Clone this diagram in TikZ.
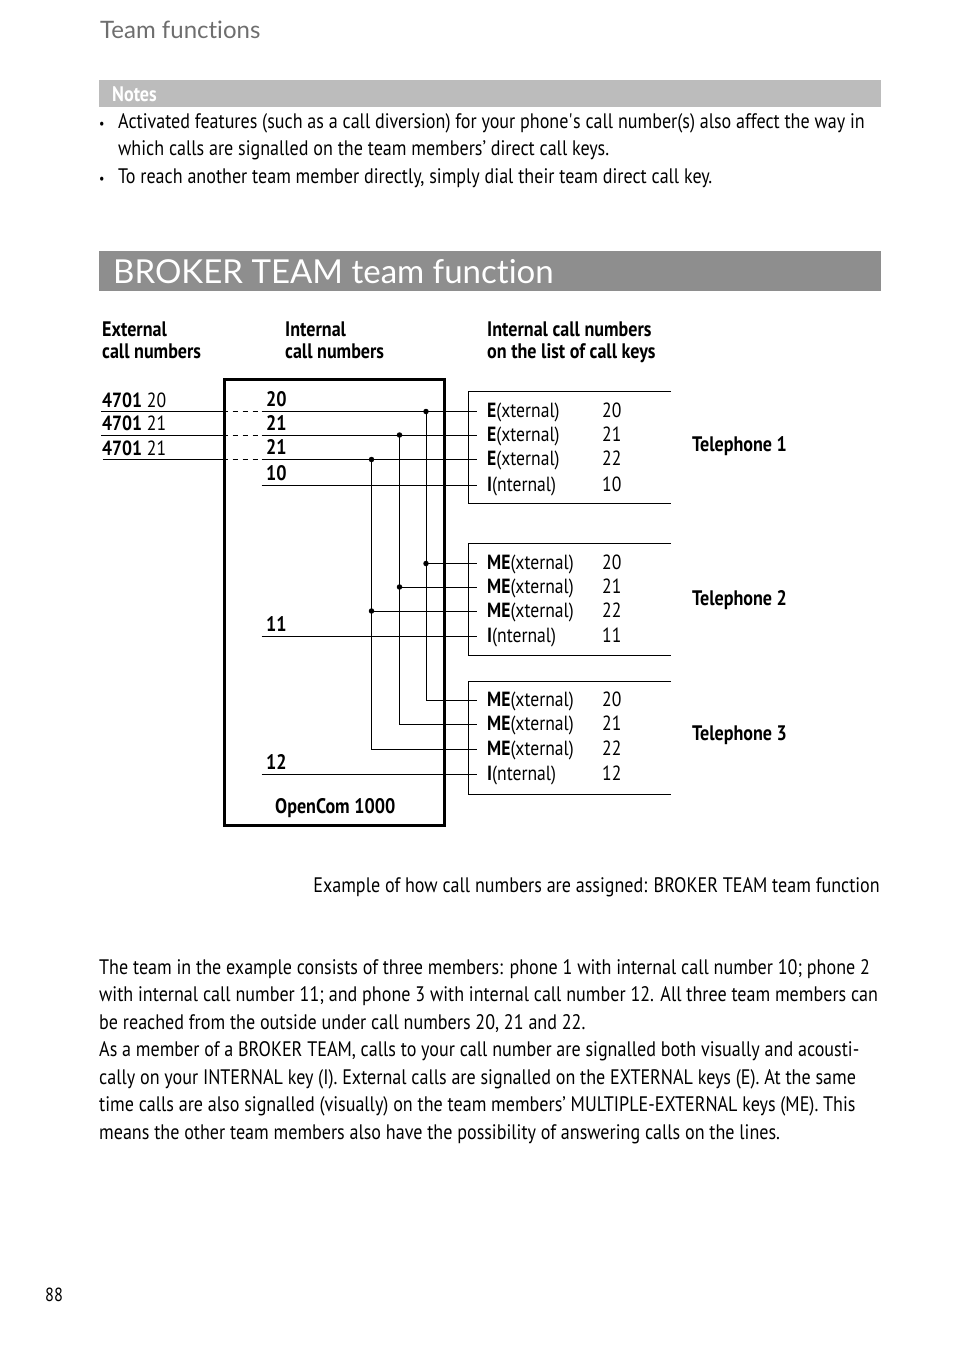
\documentclass[tikz,border=0pt]{standalone}
\usepackage{fontspec}
\setmainfont{PT Sans}[FakeStretch=0.86]
\newfontfamily\headfont{Lato}[Ligatures=NoCommon]
\usetikzlibrary{positioning}
\definecolor{headgray}{RGB}{110,110,110}
\definecolor{notegray}{RGB}{188,188,188}
\definecolor{titlegray}{RGB}{142,142,142}

\tikzset{
  txt/.style={anchor=base west, inner sep=0pt, font=\fontsize{21}{27}\selectfont},
  lbl/.style={txt, font=\fontsize{21}{24}\selectfont\bfseries},
  key/.style={txt, font=\fontsize{20.5}{24}\selectfont},
  wire/.style={line width=1pt},
  tap/.style={circle, fill, inner sep=0pt, minimum size=5.5pt},
}

\begin{document}
\begin{tikzpicture}[x=1pt, y=-1pt]
    \useasboundingbox (0,0) rectangle (954,1354);

    % page head and notes
    \node[txt, font=\headfont\fontsize{24}{26}\selectfont, text=headgray] (pagehead) at (100,39) {Team functions};
    \fill[notegray] (99,80) rectangle (881,107);
    \node[txt, font=\fontsize{21}{24}\selectfont\bfseries, text=white] (notes) at (112,101) {Notes};
    \foreach \t [count=\i] in {{Activated features (such as a call diversion) for your phone\textquotesingle s call number(s) also affect the way in},
                              {which calls are signalled on the team members’ direct call keys.},
                              {To reach another team member directly, simply dial their team direct call key.}}
        \node[txt] (note\i) at (118,{128+27.5*(\i-1)}) {\t};
    \node[txt, font=\fontsize{14}{20}\selectfont] (bull1) at (99,128) {\textbullet};
    \node[txt, font=\fontsize{14}{20}\selectfont] (bull2) at (99,183) {\textbullet};

    % title bar
    \fill[titlegray] (99,251) rectangle (881,291);
    \node[txt, font=\headfont\fontsize{33}{36}\selectfont, text=white] (title) at (113,283) {BROKER TEAM team function};

    % column heads
    \node[lbl] (exthead) at (102,336) {External};
    \node[lbl] (exthead2) at (102,358) {call numbers};
    \node[lbl] (inthead) at (285,336) {Internal};
    \node[lbl] (inthead2) at (285,358) {call numbers};
    \node[lbl] (keyhead) at (487,336) {Internal call numbers};
    \node[lbl] (keyhead2) at (487,358) {on the list of call keys};

    % OpenCom 1000 box
    \node[draw, line width=3pt, anchor=north west, inner sep=0pt, minimum width=220pt, minimum height=446pt] (opencom) at (222.5,378) {};
    \node[lbl] (pbx) at (275,813.5) {OpenCom 1000};

    % bus columns
    \coordinate (bus20) at (426,0);
    \coordinate (bus21) at (399.5,0);
    \coordinate (bus22) at (371.5,0);

    % telephones with their call keys
    \foreach \p/\top/\bot/\ya/\yb/\yc/\yd/\kind/\int/\tel in {
        1/391.5/503/411.5/435/459.5/485/E/10/451.5,
        2/543/655/563.5/587/611/636/ME/11/605,
        3/681.5/794/700.5/724.5/749/774/ME/12/740}{
        \draw[wire] (671,\top) -- (468.5,\top) -- (468.5,\bot) -- (671,\bot);
        \coordinate (k\p1) at (477,\ya);
        \coordinate (k\p2) at (477,\yb);
        \coordinate (k\p3) at (477,\yc);
        \coordinate (k\p4) at (477,\yd);
        \node[key] (ka\p) at (487,{\ya+6}) {\textbf{\kind}(xternal)};
        \node[key] (kb\p) at (487,{\yb+6}) {\textbf{\kind}(xternal)};
        \node[key] (kc\p) at (487,{\yc+6}) {\textbf{\kind}(xternal)};
        \node[key] (kd\p) at (487,{\yd+6}) {\textbf{I}(nternal)};
        \node[key] (na\p) at (602,{\ya+6}) {20};
        \node[key] (nb\p) at (602,{\yb+6}) {21};
        \node[key] (nc\p) at (602,{\yc+6}) {22};
        \node[key] (nd\p) at (602,{\yd+6}) {\int};
        \coordinate (i\p) at (261.5,\yd);
        \node[lbl] (int\p) at (266,{\yd-5}) {\int};
        \draw[wire] (i\p) -- (k\p4);
        \node[lbl] (tel\p) at (692,\tel) {Telephone \p};
    }

    % external numbers into the OpenCom
    \foreach \n/\y/\x [count=\i] in {20/411.5/101, 21/435/101, 21/459.5/102.5}{
        \coordinate (e\i) at (\x,\y);
        \coordinate (w\i) at (222.5,\y);
        \coordinate (j\i) at (261.5,\y);
        \node[key] (ext\i) at (102,{\y-4.5}) {\textbf{4701} \n};
        \node[lbl] (trunk\i) at (266,{\y-5}) {\n};
        \draw[wire] (e\i) -- (w\i);
        \draw[wire, dash pattern=on 5pt off 5pt] (w\i) -- (j\i);
        \draw[wire] (j\i) -- (k1\i);
    }

    % multiple-external keys fed from the bus
    \foreach \b/\r in {bus20/1, bus21/2, bus22/3}{
        \draw[wire] (k1\r -| \b) |- (k3\r);
        \draw[wire] (k2\r -| \b) -- (k2\r);
        \node[tap] (tapa\r) at (k1\r -| \b) {};
        \node[tap] (tapb\r) at (k2\r -| \b) {};
    }

    \node[txt, anchor=base east] (caption) at (880,892) {Example of how call numbers are assigned: BROKER TEAM team function};

    \foreach \t [count=\i] in {{The team in the example consists of three members: phone 1 with internal call number 10; phone 2},
                              {with internal call number 11; and phone 3 with internal call number 12. All three team members can},
                              {be reached from the outside under call numbers 20, 21 and 22.},
                              {As a member of a BROKER TEAM, calls to your call number are signalled both visually and acousti-},
                              {cally on your INTERNAL key (I). External calls are signalled on the EXTERNAL keys (E). At the same},
                              {time calls are also signalled (visually) on the team members’ MULTIPLE-EXTERNAL keys (ME). This},
                              {means the other team members also have the possibility of answering calls on the lines.}}
        \node[txt] (body\i) at (99,{974+27.5*(\i-1)}) {\t};

    \node[txt, font=\fontsize{19}{24}\selectfont] (pageno) at (45,1301) {88};
\end{tikzpicture}
\end{document}
